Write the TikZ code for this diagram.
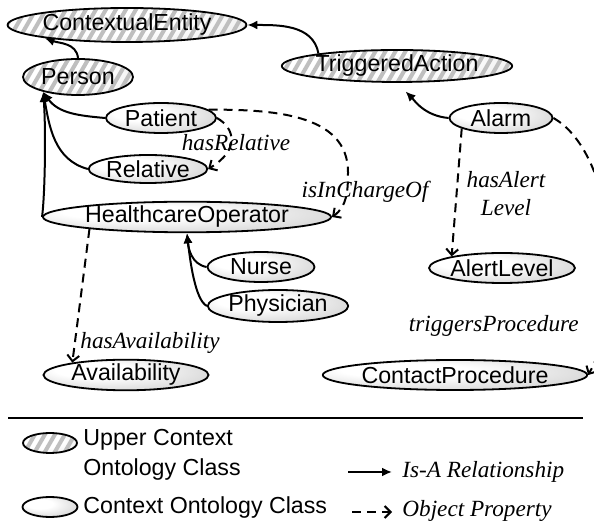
\documentclass[tikz,border=0pt]{standalone}
\usepackage{fontspec}
\setmainfont{Liberation Sans}
\newfontfamily\labfont{Liberation Serif}
\usetikzlibrary{arrows.meta, shapes.geometric}

\pgfdeclareradialshading{ellshade}{\pgfpoint{-12bp}{10bp}}{color(0bp)=(white); color(12bp)=(white); color(55bp)=(gray!65)}
\pgfdeclareradialshading{hatchshade}{\pgfpoint{-12bp}{10bp}}{color(0bp)=(white); color(20bp)=(white); color(55bp)=(gray!35)}

\tikzset{
  cls/.style={ellipse, draw, line width=0.9pt, inner sep=0pt, shading=ellshade,
    font=\fontsize{11.6}{13}\selectfont},
  upper/.style={cls, shading=hatchshade, path picture={
    \foreach \k in {-30,...,30}
      \draw[gray!50, line width=2pt] ([xshift=\k*5pt]path picture bounding box.center)
        ++(-6pt,-10.4pt) -- ++(12pt,20.8pt);}},
  isa/.style={line width=1pt, -{Latex[length=5pt,width=4.5pt]}},
  prop/.style={line width=1pt, dash pattern=on 4.5pt off 3pt, -{Straight Barb[length=3pt,width=6pt]}},
  lbl/.style={font=\labfont\itshape\fontsize{11.6}{14}\selectfont, inner sep=0pt},
}

\begin{document}
\begin{tikzpicture}[x=0.5pt, y=-0.5pt]
    \useasboundingbox (0,0) rectangle (594,528);
    \clip (0,0) rectangle (594,528);

    \node[upper, minimum width=115pt, minimum height=17pt] (ce) at (127,25) {ContextualEntity};
    \node[upper, minimum width=55pt, minimum height=18pt] (person) at (78,77) {Person};
    \node[upper, minimum width=105pt, minimum height=16pt] (ta) at (397,66) {TriggeredAction};

    \node[cls, minimum width=55pt, minimum height=15pt] (patient) at (161,118) {Patient};
    \node[cls, minimum width=54pt, minimum height=14pt] (relative) at (148,169) {Relative};
    \node[cls, minimum width=125pt, minimum height=15pt] (hco) at (187,217) {HealthcareOperator};
    \node[cls, minimum width=53.5pt, minimum height=15pt] (nurse) at (261,267) {Nurse};
    \node[cls, minimum width=70pt, minimum height=16pt] (physician) at (278,306) {Physician};
    \node[cls, minimum width=82.5pt, minimum height=15pt] (avail) at (126,375) {Availability};
    \node[cls, minimum width=51.5pt, minimum height=15pt] (alarm) at (501,118) {Alarm};
    \node[cls, minimum width=65pt, minimum height=15pt] (alert) at (502,268) {AlertLevel};
    \node[cls, minimum width=110pt, minimum height=15pt] (contact) at (455,375) {ContactProcedure};

    \draw[isa] (person.north) to[out=95,in=-20] (ce.189);
    \draw[isa] (ta.171) to[out=100,in=0] (ce.east);
    \draw[isa] (patient.west) to[out=175,in=-55] (person.203);
    \draw[isa] (relative.west) to[out=165,in=-80] (person.203);
    \draw[isa] (hco.west) .. controls (45,195) and (46,130) .. (person.203);
    \draw[isa] (nurse.west) to[out=170,in=-85] (hco.south);
    \draw[isa] (physician.west) .. controls (195,300) and (190,260) .. (hco.south);
    \draw[isa, shorten >=6pt] (alarm.west) to[out=175,in=-45] (ta.south);

    \coordinate (bend) at (348,172);
    \draw[prop] (patient.east) .. controls (235,128) and (240,150) .. (relative.east);
    \draw[prop] (patient.10) to[out=0,in=90] (bend) to[out=-90,in=35] (hco.east);
    \draw[prop] (hco.187) -- (avail.167);
    \draw[prop] (alarm.195) -- (alert.167);
    \draw[prop] (alarm.east) .. controls (615,153) and (628,304) .. (contact.east);

    \node[lbl] (lrel) at (236,143) {hasRelative};
    \node[lbl] (lcharge) at (365,192) {isInChargeOf};
    \node[lbl, anchor=west] (lavail) at (80,343) {hasAvailability};
    \node[lbl, align=center] (lalert) at (506,194) {hasAlert\\Level};
    \node[lbl, anchor=east] (lproc) at (579,326) {triggersProcedure};

    \coordinate (sepL) at (8,418);
    \coordinate (sepR) at (583,418);
    \draw[line width=0.9pt] (sepL) -- (sepR);

    \node[upper, minimum width=27pt, minimum height=10pt] (legupper) at (50,443) {};
    \node[cls, minimum width=27.5pt, minimum height=10pt] (legplain) at (50,507) {};
    \node[anchor=west, align=left, font=\fontsize{11.6}{15}\selectfont, inner sep=0pt] (tupper) at (83,455) {Upper Context\\Ontology Class};
    \node[anchor=west, font=\fontsize{11.6}{15}\selectfont, inner sep=0pt] (tplain) at (83,508) {Context Ontology Class};

    \coordinate (isaA) at (348,472);
    \coordinate (isaB) at (392,472);
    \coordinate (propA) at (352,512);
    \coordinate (propB) at (392,512);
    \draw[isa] (isaA) -- (isaB);
    \draw[prop] (propA) -- (propB);
    \node[lbl, anchor=west] (tisa) at (402,472) {Is-A Relationship};
    \node[lbl, anchor=west] (tprop) at (402,511) {Object Property};
\end{tikzpicture}
\end{document}
